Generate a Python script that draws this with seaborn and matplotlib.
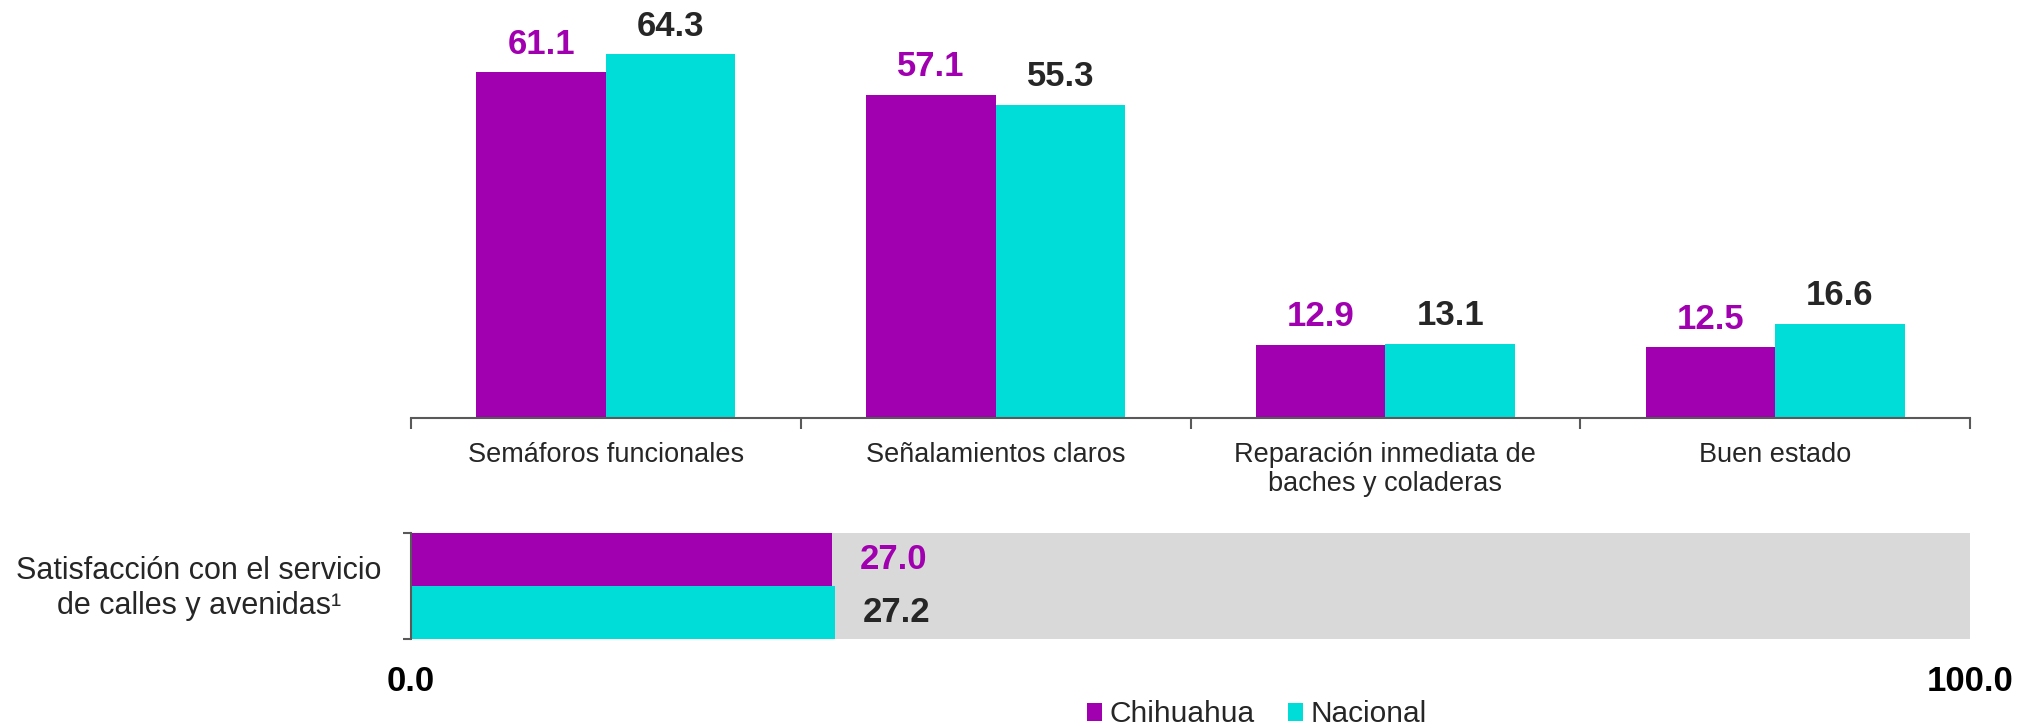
import matplotlib
matplotlib.use("Agg")
import matplotlib.pyplot as plt
import seaborn as sns
import pandas as pd
from matplotlib.patches import Patch

categories = ["Semáforos funcionales", "Señalamientos claros",
              "Reparación inmediata de\nbaches y coladeras", "Buen estado"]
chihuahua = [61.1, 57.1, 12.9, 12.5]
nacional = [64.3, 55.3, 13.1, 16.6]
series = ["Chihuahua", "Nacional"]
sat_label = "Satisfacción con el servicio\nde calles y avenidas¹"
sat_values = [27.0, 27.2]
x_ticks = [0, 100]
x_tick_labels = ["0.0", "100.0"]

PURPLE = "#A000AF"
CYAN = "#00DDD8"
GRAY = "#D9D9D9"
DARK = "#262626"
colors = {"Chihuahua": PURPLE, "Nacional": CYAN}
label_colors = {"Chihuahua": PURPLE, "Nacional": DARK}

sns.set_theme(style="white")
plt.rcParams["font.family"] = ["Liberation Sans", "DejaVu Sans"]

df = pd.DataFrame({
    "cat": categories * 2,
    "serie": [series[0]] * 4 + [series[1]] * 4,
    "val": chihuahua + nacional,
})

fig = plt.figure(figsize=(20.27, 7.28), dpi=100)

# ---- top grouped bar chart
ax = fig.add_axes([411 / 2027, 1 - 418 / 728, (1970 - 411) / 2027, 418 / 728])
sns.barplot(data=df, x="cat", y="val", hue="serie", order=categories,
            hue_order=series, palette=colors, width=0.665, gap=0,
            saturation=1, edgecolor="none", linewidth=0, legend=False, ax=ax)
ax.set_xlim(-0.5, len(categories) - 0.5)
ax.set_ylim(0, 73.9)
for cont, s in zip(ax.containers, series):
    for bar in cont:
        h = bar.get_height()
        ax.annotate(f"{h:.1f}", (bar.get_x() + bar.get_width() / 2, h),
                    xytext=(0, 13.5), textcoords="offset points",
                    ha="center", va="baseline", fontsize=25, fontweight="bold",
                    color=label_colors[s])
for sp in ["top", "right", "left"]:
    ax.spines[sp].set_visible(False)
ax.spines["bottom"].set_color("#595959")
ax.spines["bottom"].set_linewidth(1.5)
ax.set_yticks([])
ax.set_xlabel("")
ax.set_ylabel("")
ax.set_xticks(range(len(categories)))
ax.set_xticklabels(categories, fontsize=19.5, color=DARK, linespacing=1.15)
ax.set_xticks([i - 0.5 for i in range(len(categories) + 1)], minor=True)
ax.tick_params(axis="x", which="major", length=0, pad=17)
ax.tick_params(axis="x", which="minor", length=8, width=1.5, color="#595959", bottom=True)

# ---- bottom horizontal bars
ax2 = fig.add_axes([411 / 2027, 1 - 638.6 / 728, (1970 - 411) / 2027, 106 / 728])
ax2.set_facecolor(GRAY)
df2 = pd.DataFrame({"cat": [sat_label] * 2, "serie": series, "val": sat_values})
sns.barplot(data=df2, y="cat", x="val", hue="serie", hue_order=series,
            palette=colors, width=1.0, gap=0, saturation=1, edgecolor="none",
            linewidth=0, legend=False, orient="h", ax=ax2)
ax2.set_xlim(0, 100)
ax2.set_ylim(0.5, -0.5)
for cont, s in zip(ax2.containers, series):
    for bar in cont:
        w = bar.get_width()
        ax2.annotate(f"{w:.1f}", (w, bar.get_y() + bar.get_height() / 2),
                     xytext=(20, 0), textcoords="offset points",
                     ha="left", va="center", fontsize=25, fontweight="bold",
                     color=label_colors[s])
for sp in ["top", "right", "bottom"]:
    ax2.spines[sp].set_visible(False)
ax2.spines["left"].set_color("#595959")
ax2.spines["left"].set_linewidth(1.5)
ax2.set_yticks([-0.5, 0.5])
ax2.set_yticklabels([])
ax2.tick_params(axis="y", length=6, width=1.5, color="#595959", left=True)
ax2.set_xticks(x_ticks)
ax2.set_xticklabels(x_tick_labels, fontsize=25, fontweight="bold", color="black")
ax2.tick_params(axis="x", length=0, pad=19)
ax2.set_xlabel("")
ax2.set_ylabel("")
ax2.text(-0.019, 0.47, sat_label, transform=ax2.transAxes, ha="right", va="center",
         multialignment="center", fontsize=22, color=DARK, linespacing=1.2)

# ---- legend
handles = [Patch(facecolor=colors[s], edgecolor="none") for s in series]
fig.legend(handles, series, loc="center", bbox_to_anchor=(0.620, 0.019), ncol=2,
           frameon=False, fontsize=21.5, handlelength=0.52, handleheight=0.55,
           handletextpad=0.25, columnspacing=1.1, labelcolor=DARK)

fig.savefig("out.png", dpi=100)
